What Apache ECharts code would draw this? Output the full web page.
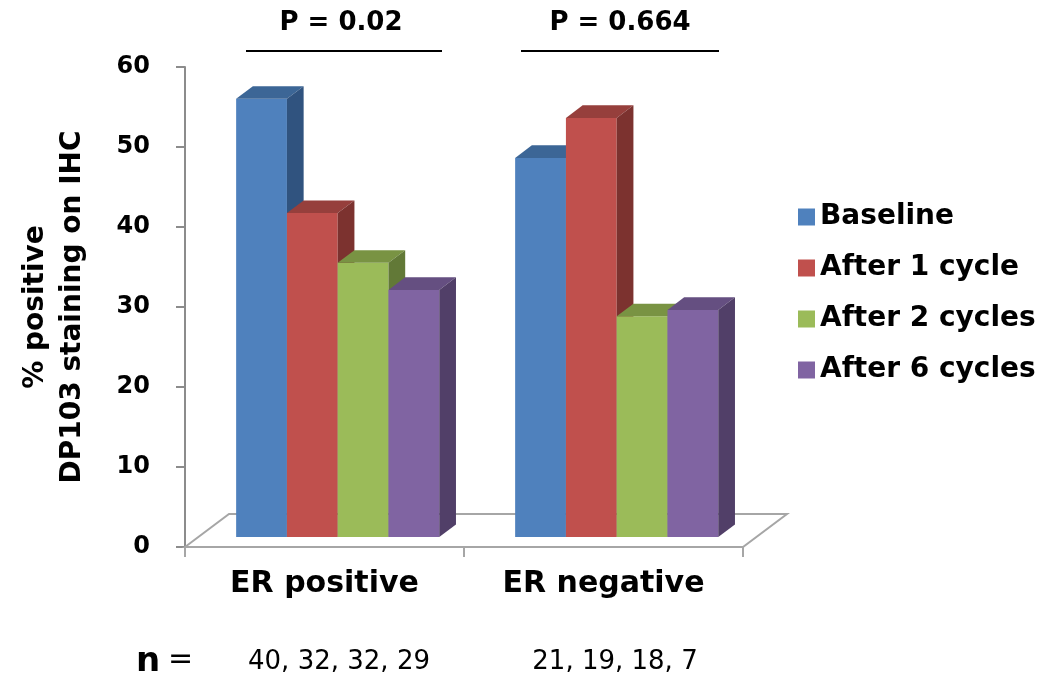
<!DOCTYPE html>
<html>
<head>
<meta charset="utf-8">
<title>DP103 staining by ER status</title>
<script src="https://cdn.jsdelivr.net/npm/echarts@6/dist/echarts.min.js"></script>
<style>
  html, body { margin: 0; padding: 0; background: #ffffff; }
  #chart { width: 1051px; height: 681px; }
</style>
</head>
<body>
<div id="chart"></div>
<script>
// ---- data ----
const categories = ['ER positive', 'ER negative'];
const seriesNames = ['Baseline', 'After 1 cycle', 'After 2 cycles', 'After 6 cycles'];
const baseline = [54.8, 47.4];
const after1 = [40.5, 52.4];
const after2 = [34.3, 27.6];
const after6 = [30.9, 28.4];
const nCounts = ['40, 32, 32, 29', '21, 19, 18, 7'];
const pValues = ['P = 0.02', 'P = 0.664'];
const yTicks = { min: 0, max: 60, interval: 10 };

// ---- styling ----
const FONT = 'DejaVu Sans';
const palette = [
  { front: '#4F81BD', top: '#3C6696', side: '#30537F' },
  { front: '#C0504D', top: '#963F3C', side: '#7C322F' },
  { front: '#9BBB59', top: '#799343', side: '#627937' },
  { front: '#8064A2', top: '#654F81', side: '#513F68' }
];
// oblique projection of the floor depth (pixels)
const FLOOR_DX = 44, FLOOR_DY = -33;
// bars sit 30% into the floor and are 38% of it deep
const BAR_OFFSET = 0.3, BAR_DEPTH = 0.38;
const BAR_RATIO = 0.182;

const allValues = [baseline, after1, after2, after6];

function barRenderer(sIdx) {
  return function (params, api) {
    const cat = api.value(0);
    const val = api.value(1);
    const base = api.coord([cat, 0]);
    const top = api.coord([cat, val]);
    const band = api.size([1, 0])[0];
    const w = band * BAR_RATIO;
    const ox = FLOOR_DX * BAR_OFFSET, oy = FLOOR_DY * BAR_OFFSET;
    const dx = FLOOR_DX * BAR_DEPTH, dy = FLOOR_DY * BAR_DEPTH;
    const x0 = base[0] - 2 * w + sIdx * w + ox;
    const yb = base[1] + oy;
    const yt = top[1] + oy;
    const c = palette[sIdx];
    return {
      type: 'group',
      children: [
        { type: 'rect', shape: { x: x0, y: yt, width: w, height: yb - yt },
          style: { fill: c.front } },
        { type: 'polygon', shape: { points: [[x0, yt], [x0 + w, yt], [x0 + w + dx, yt + dy], [x0 + dx, yt + dy]] },
          style: { fill: c.top } },
        { type: 'polygon', shape: { points: [[x0 + w, yt], [x0 + w + dx, yt + dy], [x0 + w + dx, yb + dy], [x0 + w, yb]] },
          style: { fill: c.side } }
      ]
    };
  };
}

function floorRenderer(params, api) {
  const c = api.coord([0, 0]);
  const band = api.size([1, 0])[0];
  const left = c[0] - band / 2;
  const right = left + band * categories.length;
  const y = c[1];
  return {
    type: 'polygon',
    shape: { points: [[left, y], [left + FLOOR_DX, y + FLOOR_DY], [right + FLOOR_DX, y + FLOOR_DY], [right, y]] },
    style: { fill: '#ffffff', stroke: '#A6A6A6', lineWidth: 2 }
  };
}

const series = [{
  name: 'floor',
  type: 'custom',
  z: 1,
  silent: true,
  data: [[0, 0]],
  renderItem: floorRenderer
}];
seriesNames.forEach(function (name, i) {
  series.push({
    name: name,
    type: 'custom',
    z: 2 + i,
    clip: false,
    itemStyle: { color: palette[i].front },
    data: categories.map(function (_, k) { return [k, allValues[i][k]]; }),
    renderItem: barRenderer(i)
  });
});

const boldText = { fontFamily: FONT, fontWeight: 'bold', fill: '#000' };

const chart = echarts.init(document.getElementById('chart'));
chart.setOption({
  backgroundColor: '#ffffff',
  animation: false,
  grid: { left: 185, top: 67, width: 558, height: 480, containLabel: false, outerBoundsMode: 'none' },
  legend: {
    data: seriesNames,
    orient: 'vertical',
    left: 793,
    top: 195,
    icon: 'rect',
    itemWidth: 17,
    itemHeight: 17,
    itemGap: 17,
    textStyle: { fontFamily: FONT, fontWeight: 'bold', fontSize: 28, lineHeight: 34, color: '#000' }
  },
  xAxis: {
    type: 'category',
    data: categories,
    boundaryGap: true,
    axisLine: { show: true, lineStyle: { color: '#A6A6A6', width: 2 } },
    axisTick: { show: true, length: 10, lineStyle: { color: '#A6A6A6', width: 2 } },
    axisLabel: { margin: 22, fontFamily: FONT, fontWeight: 'bold', fontSize: 30, color: '#000' },
    splitLine: { show: false }
  },
  yAxis: {
    type: 'value',
    min: yTicks.min,
    max: yTicks.max,
    interval: yTicks.interval,
    name: '% positive\nDP103 staining on IHC',
    nameLocation: 'middle',
    nameRotate: 90,
    nameGap: 94,
    nameTextStyle: { fontFamily: FONT, fontWeight: 'bold', fontSize: 28, lineHeight: 37, color: '#000' },
    axisLine: { show: true, lineStyle: { color: '#8C8C8C', width: 2 } },
    axisTick: { show: true, length: 9, lineStyle: { color: '#8C8C8C', width: 2 } },
    axisLabel: { margin: 35, fontFamily: FONT, fontWeight: 'bold', fontSize: 24, color: '#000' },
    splitLine: { show: false }
  },
  graphic: [
    { type: 'text', x: 341, y: 23, style: Object.assign({ text: pValues[0], fontSize: 26, align: 'center', verticalAlign: 'middle' }, boldText) },
    { type: 'line', shape: { x1: 246, y1: 51, x2: 442, y2: 51 }, style: { stroke: '#000', lineWidth: 2 } },
    { type: 'text', x: 620, y: 23, style: Object.assign({ text: pValues[1], fontSize: 26, align: 'center', verticalAlign: 'middle' }, boldText) },
    { type: 'line', shape: { x1: 521, y1: 51, x2: 719, y2: 51 }, style: { stroke: '#000', lineWidth: 2 } },
    { type: 'text', x: 136, y: 662, style: Object.assign({ text: 'n', fontSize: 34, align: 'left', verticalAlign: 'middle' }, boldText) },
    { type: 'text', x: 168, y: 660, style: { text: '=', fontFamily: FONT, fontSize: 30, fill: '#000', align: 'left', verticalAlign: 'middle' } },
    { type: 'text', x: 339, y: 662, style: { text: nCounts[0], fontFamily: FONT, fontSize: 26, fill: '#000', align: 'center', verticalAlign: 'middle' } },
    { type: 'text', x: 615, y: 662, style: { text: nCounts[1], fontFamily: FONT, fontSize: 26, fill: '#000', align: 'center', verticalAlign: 'middle' } }
  ],
  series: series
});
</script>
</body>
</html>
